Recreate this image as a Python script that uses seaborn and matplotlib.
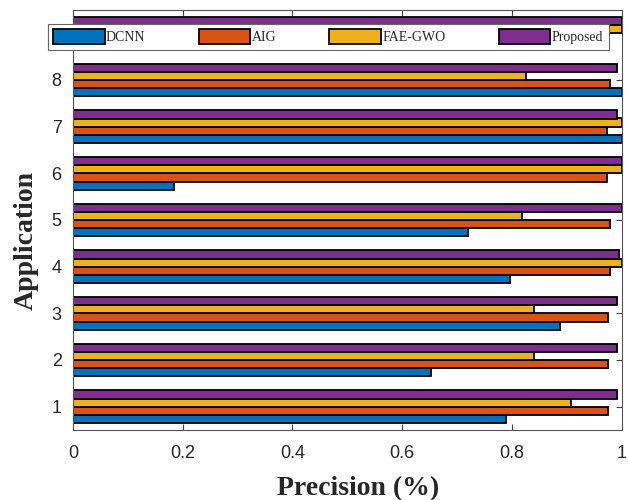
import pandas as pd
import matplotlib.pyplot as plt
import seaborn as sns

# --- data (group 9 is mostly hidden by the legend) ---
apps = [1, 2, 3, 4, 5, 6, 7, 8, 9]
dcnn = [0.789, 0.653, 0.887, 0.797, 0.720, 0.184, 1.000, 1.000, 0.800]
aig = [0.975, 0.975, 0.975, 0.978, 0.978, 0.974, 0.974, 0.978, 0.970]
fae_gwo = [0.908, 0.840, 0.840, 1.000, 0.818, 1.000, 1.000, 0.826, 1.000]
proposed = [0.991, 0.991, 0.991, 0.995, 1.000, 1.000, 0.991, 0.991, 1.000]
methods = ["DCNN", "AIG", "FAE-GWO", "Proposed"]
tick_labels = ["1", "2", "3", "4", "5", "6", "7", "8"]

colors = ["#0072BD", "#D95319", "#EDB120", "#7E2F8E"]

df = pd.DataFrame({
    "app": apps * 4,
    "value": dcnn + aig + fae_gwo + proposed,
    "method": [m for m in methods for _ in apps],
})

sns.set_theme(style="ticks")
plt.rcParams["xtick.direction"] = "in"
plt.rcParams["ytick.direction"] = "in"

fig = plt.figure(figsize=(6.28, 5), dpi=100)
ax = fig.add_axes([0.116, 0.14, 0.874, 0.84])

sns.barplot(data=df, x="value", y="app", hue="method", hue_order=methods,
            orient="h", native_scale=True, width=0.7, palette=colors,
            saturation=1, edgecolor="black", linewidth=1.3, errorbar=None,
            ax=ax)

ax.set_xlim(0, 1)
ax.set_ylim(0.5, 9.5)
ax.set_yticks(range(1, 9))
ax.set_yticklabels(tick_labels)
ax.set_xticks([0, 0.2, 0.4, 0.6, 0.8, 1])
ax.set_xticklabels(["0", "0.2", "0.4", "0.6", "0.8", "1"])
ax.tick_params(axis="both", which="both", top=True, right=True, length=4,
               width=0.8, color="#444444", labelsize=13)
ax.tick_params(axis="x", pad=11)
ax.tick_params(axis="y", pad=8)
for lab in ax.get_xticklabels() + ax.get_yticklabels():
    lab.set_family("Liberation Sans")
for sp in ax.spines.values():
    sp.set_color("#555555")
    sp.set_linewidth(0.8)

ax.set_xlabel("Precision (%)", family="Liberation Serif", fontweight="bold",
              fontsize=20)
ax.set_ylabel("Application", family="Liberation Serif", fontweight="bold",
              fontsize=20)
ax.yaxis.set_label_coords(-0.062, 0.45)
ax.xaxis.set_label_coords(0.52, -0.11)

handles, labels = ax.get_legend_handles_labels()
leg = ax.legend(handles, labels, ncol=4, loc="upper left",
                bbox_to_anchor=(-0.046, 0.967, 1.022, 0.0), mode="expand",
                borderaxespad=0, frameon=True, fancybox=False, framealpha=1,
                edgecolor="#666666", handlelength=3.7, handleheight=1.25,
                handletextpad=0.1, borderpad=0.4,
                prop={"family": "Liberation Serif", "size": 10})
leg.get_frame().set_linewidth(0.8)

plt.savefig("out.png", dpi=100)
plt.close()
